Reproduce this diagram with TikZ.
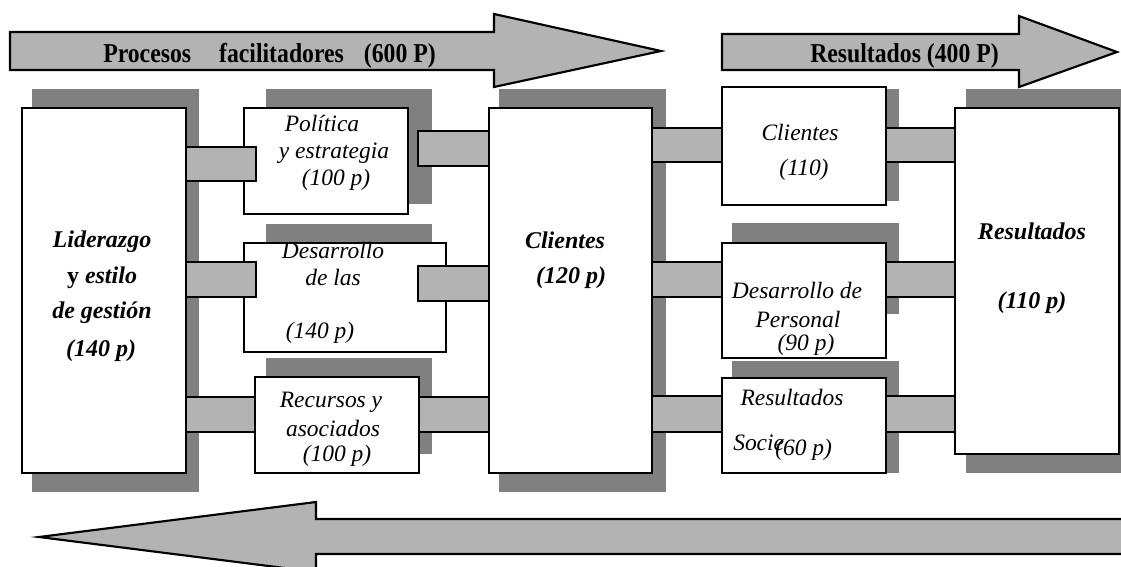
\documentclass[tikz,border=0pt]{standalone}
\usepackage{fontspec}
\setmainfont{Liberation Serif}
\usepackage{graphicx}
\usetikzlibrary{fit,calc}
\definecolor{shd}{HTML}{808080}
\definecolor{lgr}{HTML}{B3B3B3}
\begin{document}
\begin{tikzpicture}[x=0.75pt,y=-0.75pt,
 box/.style={draw=black, fill=white, line width=2pt, inner sep=0pt, outer sep=0pt},
 bar/.style={draw=black, fill=lgr, line width=1.3pt},
 bigarrow/.style={draw=black, fill=lgr, line width=1.6pt, line join=miter},
 shadowrect/.style={fill=shd},
 itx/.style={font=\fontsize{17.6}{20}\selectfont\itshape, inner sep=0pt, anchor=base},
 btx/.style={font=\fontsize{18}{20}\selectfont\bfseries\itshape, inner sep=0pt, anchor=base},
 atx/.style={font=\fontsize{17.8}{20}\selectfont\bfseries, inner sep=0pt, anchor=base west}]
\useasboundingbox (0,0) rectangle (1121,567);
\clip (0,0) rectangle (1121,567);

% shadows
\fill[shadowrect] (32,89) rectangle (199,492);
\fill[shadowrect] (266,89) rectangle (432,204);
\fill[shadowrect] (266,224) rectangle (432,330);
\fill[shadowrect] (266,358) rectangle (432,454);
\fill[shadowrect] (499,89) rectangle (666,492);
\fill[shadowrect] (732,89) rectangle (899,201);
\fill[shadowrect] (732,223) rectangle (899,314);
\fill[shadowrect] (732,361) rectangle (899,473);
\fill[shadowrect] (966,89) rectangle (1130,473);

% boxes
\node[box, fit={(22,108) (186,473)}] (lid) {};
\node[box, fit={(244,108) (408,214)}] (pol) {};
\node[box, fit={(244,243) (446,352)}] (des) {};
\node[box, fit={(255,377) (419,473)}] (rec) {};
\node[box, fit={(489,108) (652,473)}] (cli) {};
\node[box, fit={(722,87) (886,205)}] (c110) {};
\node[box, fit={(722,243) (886,358)}] (dpe) {};
\node[box, fit={(722,378) (886,473)}] (rso) {};
\node[box, fit={(955,108) (1119,454)}] (res) {};

% connector bars
\draw[bar] (lid.east |- 0,147) rectangle ($(pol.west |- 0,181)+(12,0)$);
\draw[bar] (lid.east |- 0,262) rectangle ($(des.west |- 0,297)+(12,0)$);
\draw[bar] (lid.east |- 0,397) rectangle (rec.west |- 0,432);
\draw[bar] ($(pol.east |- 0,131)+(10,0)$) rectangle (cli.west |- 0,166);
\draw[bar] ($(des.east |- 0,266)+(-28,0)$) rectangle (cli.west |- 0,301);
\draw[bar] (rec.east |- 0,397) rectangle (cli.west |- 0,432);
\draw[bar] (cli.east |- 0,128) rectangle (c110.west |- 0,162);
\draw[bar] (cli.east |- 0,262) rectangle (dpe.west |- 0,297);
\draw[bar] (cli.east |- 0,396) rectangle (rso.west |- 0,432);
\draw[bar] (c110.east |- 0,128) rectangle (res.west |- 0,162);
\draw[bar] (dpe.east |- 0,262) rectangle (res.west |- 0,297);
\draw[bar] (rso.east |- 0,396) rectangle (res.west |- 0,432);

% big arrows
\draw[bigarrow] (10,32) -- (494,32) -- (494,14) -- (661,51) -- (494,87) -- (494,70) -- (10,70) -- cycle;
\draw[bigarrow] (722,34) -- (1019,34) -- (1019,16) -- (1117,52) -- (1019,87) -- (1019,70) -- (722,70) -- cycle;
\draw[bigarrow] (1135,519) -- (316,519) -- (316,502) -- (39,537) -- (316,572) -- (316,554) -- (1135,554) -- cycle;

\node[atx] (a1) at (103,63) {\scalebox{1}[1.15]{Procesos\hspace{21pt}facilitadores\hspace{15pt}(600 P)}};
\node[atx] (a2) at (810,63) {\scalebox{1}[1.15]{Resultados (400 P)}};

% italic texts
\node[itx] (t1) at (322,132) {Política};
\node[itx] (t2) at (334,158) {y estrategia};
\node[itx] (t3) at (336,185) {(100 p)};
\node[itx] (t4) at (333,258) {Desarrollo};
\node[itx] (t5) at (333,285) {de las};
\node[itx] (t6) at (320,338) {(140 p)};
\node[itx] (t7) at (331,407) {Recursos y};
\node[itx] (t8) at (333,436) {asociados};
\node[itx] (t9) at (337,461) {(100 p)};
\node[itx] (t10) at (800,140) {Clientes};
\node[itx] (t11) at (804,175) {(110)};
\node[itx] (t12) at (797,298) {Desarrollo de};
\node[itx] (t13) at (798,327) {Personal};
\node[itx] (t14) at (806,350) {(90 p)};
\node[itx] (t15) at (792,405) {Resultados};
\node[itx, anchor=base west] (t16) at (733,450) {Socie};
\node[itx, anchor=base west] (t17) at (775,455) {(60 p)};

% bold italic texts
\node[btx] (l1) at (102,247) {Liderazgo};
\node[btx] (l2) at (102,283) {{\upshape y} estilo};
\node[btx] (l3) at (102,318) {de gestión};
\node[btx] (l4) at (101,356) {(140 p)};
\node[btx] (c1) at (565,248) {Clientes};
\node[btx] (c2) at (571,283) {(120 p)};
\node[btx] (r1) at (1032,239) {Resultados};
\node[btx] (r2) at (1032,308) {(110 p)};
\end{tikzpicture}
\end{document}
